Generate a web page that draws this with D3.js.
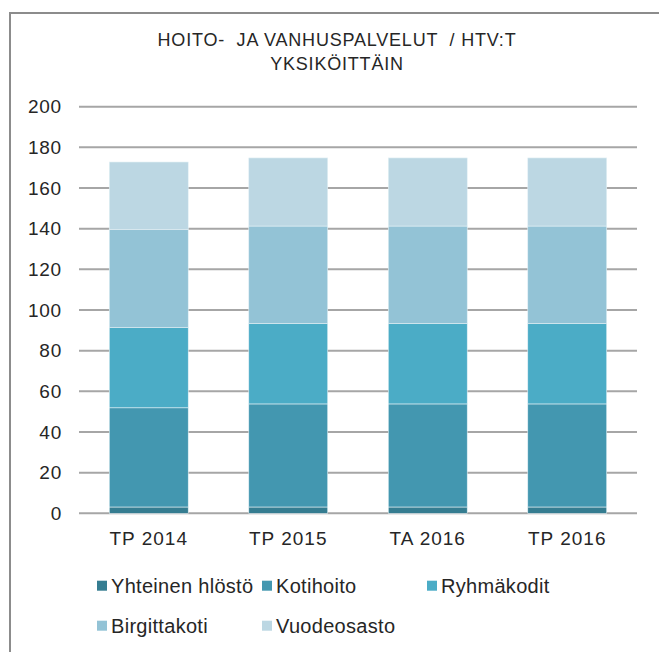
<!DOCTYPE html>
<html>
<head>
<meta charset="utf-8">
<script src="https://cdn.jsdelivr.net/npm/d3@7"></script>
<style>
  body { margin: 0; background: #fff; }
  text { font-family: "Liberation Sans", Arial, sans-serif; fill: #262626; }
</style>
</head>
<body>
<svg id="chart" width="659" height="652"></svg>
<script>
// data
var categories = ["TP 2014", "TP 2015", "TA 2016", "TP 2016"];
var seriesNames = ["Yhteinen hlöstö", "Kotihoito", "Ryhmäkodit", "Birgittakoti", "Vuodeosasto"];
var yhteinen = [3.1, 3.1, 3.1, 3.1];
var kotihoito = [48.8, 50.7, 50.7, 50.7];
var ryhmakodit = [39.4, 39.5, 39.5, 39.5];
var birgittakoti = [48.2, 48, 48, 48];
var vuodeosasto = [33.3, 33.5, 33.5, 33.5];
var yTicks = [0, 20, 40, 60, 80, 100, 120, 140, 160, 180, 200];
var colors = ["#357d91", "#4397b0", "#4bacc6", "#93c3d6", "#bcd7e3"];

var svg = d3.select("#chart");

// frame (left + top)
svg.append("path")
	.attr("d", "M10,652 V13 H659")
	.attr("fill", "none")
	.attr("stroke", "#8c8c8c")
	.attr("stroke-width", 2);

// title
var title = svg.append("text")
	.attr("text-anchor", "middle")
	.attr("xml:space", "preserve")
	.style("white-space", "pre")
	.style("font-size", "18px")
	.style("letter-spacing", "0.8px");
title.append("tspan").attr("x", 337).attr("y", 46).text("HOITO-  JA VANHUSPALVELUT  / HTV:T");
title.append("tspan").attr("x", 337).attr("y", 70).text("YKSIKÖITTÄIN");

var x = d3.scaleBand().domain(categories).range([79, 637]).paddingInner(0.434).paddingOuter(0.217);
var y = d3.scaleLinear().domain([0, 200]).range([513.3, 106.7]);

// gridlines
svg.append("g").selectAll("line")
	.data(yTicks)
	.enter().append("line")
	.attr("x1", 79).attr("x2", 637)
	.attr("y1", function(d) { return y(d); })
	.attr("y2", function(d) { return y(d); })
	.attr("stroke", "#a6a6a6")
	.attr("stroke-width", 2);

// y axis labels
var yAxis = d3.axisLeft(y).tickValues(yTicks).tickSize(0).tickPadding(0);
var yg = svg.append("g").attr("transform", "translate(62,0)").call(yAxis);
yg.select(".domain").remove();
yg.selectAll("text")
	.style("font-size", "19px")
	.style("letter-spacing", "0.8px")
	.style("font-family", "'Liberation Sans', Arial, sans-serif")
	.attr("fill", "#262626");

// stack
var rows = categories.map(function(c, i) {
	return {
		cat: c,
		"Yhteinen hlöstö": yhteinen[i],
		"Kotihoito": kotihoito[i],
		"Ryhmäkodit": ryhmakodit[i],
		"Birgittakoti": birgittakoti[i],
		"Vuodeosasto": vuodeosasto[i]
	};
});
var stacked = d3.stack().keys(seriesNames)(rows);

svg.append("g").selectAll("g")
	.data(stacked)
	.enter().append("g")
	.attr("fill", function(d, i) { return colors[i]; })
	.selectAll("rect")
	.data(function(d) { return d; })
	.enter().append("rect")
	.attr("x", function(d) { return x(d.data.cat); })
	.attr("width", x.bandwidth())
	.attr("y", function(d) { return y(d[1]); })
	.attr("height", function(d) { return y(d[0]) - y(d[1]); })
	.attr("stroke", "#e4f1f5")
	.attr("stroke-width", 0.6);

// x axis labels
var xAxis = d3.axisBottom(x).tickSize(0).tickPadding(0);
var xg = svg.append("g").attr("transform", "translate(0,531)").call(xAxis);
xg.select(".domain").remove();
xg.selectAll("text")
	.attr("dy", "0.71em")
	.style("font-size", "19px")
	.style("letter-spacing", "1px")
	.style("font-family", "'Liberation Sans', Arial, sans-serif")
	.attr("fill", "#262626");

// legend
var legendPos = [[97, 580.7], [262, 580.7], [427, 580.7], [97, 620.7], [262, 620.7]];
var legend = svg.append("g").selectAll("g")
	.data(seriesNames)
	.enter().append("g")
	.attr("transform", function(d, i) { return "translate(" + legendPos[i][0] + "," + legendPos[i][1] + ")"; });
legend.append("rect")
	.attr("width", 10).attr("height", 10)
	.attr("fill", function(d, i) { return colors[i]; });
legend.append("text")
	.attr("x", 14).attr("y", 12)
	.style("font-size", "20px")
	.style("letter-spacing", "0.3px")
	.text(function(d) { return d; });
</script>
</body>
</html>
